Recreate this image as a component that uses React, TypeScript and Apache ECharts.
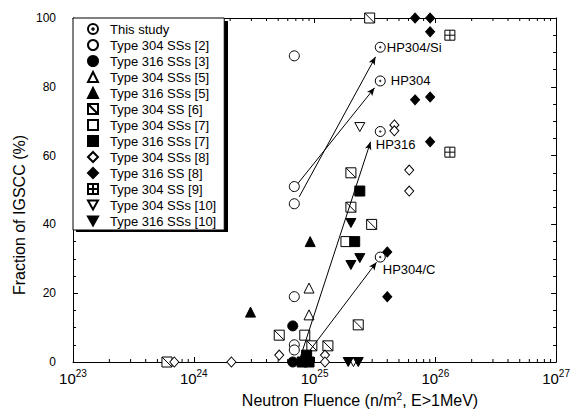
import React, { useEffect, useRef } from "react";
import * as echarts from "echarts";

// ---------- data: [neutron fluence (n/m^2), fraction of IGSCC (%)] ----------
const thisStudy: [number, number][] = [
  [3.5e25, 91.5],
  [3.5e25, 81.7],
  [3.5e25, 67],
  [3.5e25, 30.5],
];
const thisStudyLabels = ["HP304/Si", "HP304", "HP316", "HP304/C"];
const type304SSs2: [number, number][] = [
  [6.8e24, 89],
  [6.8e24, 51],
  [6.8e24, 46],
  [6.8e24, 19],
  [6.8e24, 5],
  [6.8e24, 3.5],
];
const type316SSs3: [number, number][] = [
  [6.6e24, 10.5],
  [6.6e24, 0],
];
const type304SSs5: [number, number][] = [
  [9.0e24, 21.5],
  [9.0e24, 13.7],
];
const type316SSs5: [number, number][] = [
  [9.2e24, 35],
  [2.95e24, 14.5],
];
const type304SS6: [number, number][] = [
  [2.86e25, 100],
  [2.0e25, 55],
  [2.0e25, 45],
  [2.97e25, 40],
  [2.3e25, 10.8],
  [5.1e24, 7.8],
  [9.5e24, 4.7],
  [1.29e25, 4.7],
  [6.0e23, 0],
];
const type304SSs7: [number, number][] = [
  [1.82e25, 35],
  [8.3e24, 7.8],
];
const type316SSs7: [number, number][] = [
  [2.37e25, 49.7],
  [2.15e25, 35],
  [7.9e24, 0],
  [8.6e24, 2],
  [9.0e24, 0],
];
const type304SSs8: [number, number][] = [
  [4.58e25, 68.9],
  [4.58e25, 67.2],
  [6.08e25, 55.8],
  [6.08e25, 49.7],
  [6.9e23, 0],
  [2.05e24, 0],
  [5.1e24, 2],
  [1.22e25, 2],
  [1.22e25, 0],
];
const type316SS8: [number, number][] = [
  [6.8e25, 100],
  [9.06e25, 100],
  [9.06e25, 96],
  [6.8e25, 76.2],
  [9.06e25, 77],
  [9.06e25, 64],
  [4.0e25, 32],
  [4.0e25, 19],
];
const type304SS9: [number, number][] = [
  [1.32e26, 95],
  [1.32e26, 61],
];
const type304SSs10: [number, number][] = [
  [2.37e25, 68.3],
  [2.1e25, 0],
];
const type316SSs10: [number, number][] = [
  [2.0e25, 40.4],
  [2.37e25, 30.2],
  [2.0e25, 28.2],
  [1.9e25, 0],
  [2.3e25, 0],
];

// arrows (this study): from -> to
const arrowFrom: [number, number][] = [
  [7.32e24, 52],
  [7.46e24, 48],
  [7.6e24, 1.2],
  [9.2e24, 3.5],
];
const arrowTo: [number, number][] = [
  [3.14e25, 79.7],
  [3.2e25, 88.7],
  [2.91e25, 64],
  [3.26e25, 29],
];

// axis ticks
const xMin = 1e23;
const xMax = 1e27;
const decades = [23, 24, 25, 26];
const minorMultipliers = [2, 3, 4, 5, 6, 7, 8, 9];
const yTicks = [0, 20, 40, 60, 80, 100];

// ---------- styles ----------
const FONT = "'Liberation Sans', Arial, Helvetica, sans-serif";
const DOT_CIRCLE =
  "path://M5,0A5,5,0,1,1,5,10A5,5,0,1,1,5,0ZM5,4.3A0.7,0.7,0,1,1,5,5.7A0.7,0.7,0,1,1,5,4.3Z";
const DIAG_SQUARE = "path://M0,0H10V10H0ZM0,0L10,10";
const PLUS_SQUARE = "path://M0,0H10V10H0ZM5,0V10M0,5H10";
const DOWN_TRI = "path://M0,0H10L5,9Z";

const labelOffsets: Record<string, any> = {
  "HP304/Si": { position: "right", distance: 1, offset: [0, 0] },
  HP304: { position: "right", distance: 5, offset: [0, 0] },
  HP316: { position: "right", distance: 5, offset: [-15, 13] },
  "HP304/C": { position: "right", distance: 5, offset: [-8, 12] },
};

type Def = {
  name: string;
  data: [number, number][];
  symbol: string;
  size: number | number[];
  filled: boolean;
};

const defs: Def[] = [
  { name: "This study", data: thisStudy, symbol: DOT_CIRCLE, size: 10, filled: false },
  { name: "Type 304 SSs [2]", data: type304SSs2, symbol: "circle", size: 10, filled: false },
  { name: "Type 316 SSs [3]", data: type316SSs3, symbol: "circle", size: 10, filled: true },
  { name: "Type 304 SSs [5]", data: type304SSs5, symbol: "triangle", size: 10, filled: false },
  { name: "Type 316 SSs [5]", data: type316SSs5, symbol: "triangle", size: 10, filled: true },
  { name: "Type 304 SS [6]", data: type304SS6, symbol: DIAG_SQUARE, size: 10, filled: false },
  { name: "Type 304 SSs [7]", data: type304SSs7, symbol: "rect", size: 10, filled: false },
  { name: "Type 316 SSs [7]", data: type316SSs7, symbol: "rect", size: 10, filled: true },
  { name: "Type 304 SSs [8]", data: type304SSs8, symbol: "diamond", size: [9, 10], filled: false },
  { name: "Type 316 SS [8]", data: type316SS8, symbol: "diamond", size: [9, 10], filled: true },
  { name: "Type 304 SS [9]", data: type304SS9, symbol: PLUS_SQUARE, size: 10, filled: false },
  { name: "Type 304 SSs [10]", data: type304SSs10, symbol: DOWN_TRI, size: 10, filled: false },
  { name: "Type 316 SSs [10]", data: type316SSs10, symbol: DOWN_TRI, size: 10, filled: true },
];

export default function App() {
  const ref = useRef<HTMLDivElement>(null);

  useEffect(() => {
    if (!ref.current) return;
    const chart = echarts.init(ref.current, undefined, { renderer: "svg" });

    const minorTicks: [number, number][] = [];
    decades.forEach((d) =>
      minorMultipliers.forEach((m) => minorTicks.push([m * Math.pow(10, d), 0]))
    );

    const scatterSeries: any[] = defs.map((d, idx) => {
      const s: any = {
        type: "scatter",
        name: d.name,
        symbol: d.symbol,
        symbolSize: d.size,
        symbolKeepAspect: true,
        clip: false,
        z: 3,
        itemStyle: {
          color: d.filled ? "#000" : "#fff",
          borderColor: "#000",
          borderWidth: 1,
          opacity: 1,
        },
        emphasis: { disabled: true },
        data: d.data.map((p, i) => {
          if (idx === 0) {
            const lab = thisStudyLabels[i];
            const o = labelOffsets[lab];
            return {
              value: p,
              label: {
                show: true,
                formatter: lab,
                position: o.position,
                distance: o.distance,
                offset: o.offset,
                color: "#000",
                fontSize: 13,
                fontFamily: FONT,
              },
            };
          }
          return p;
        }),
      };
      if (idx === 0) {
        s.markLine = {
          silent: true,
          symbol: ["none", "arrow"],
          symbolSize: [5, 8],
          lineStyle: { color: "#000", width: 1, type: "solid" },
          label: { show: false },
          emphasis: { disabled: true },
          data: arrowFrom.map((f, i) => [{ coord: f }, { coord: arrowTo[i] }]),
        };
      }
      return s;
    });

    const option: any = {
      animation: false,
      backgroundColor: "#fff",
      grid: { left: 73, right: 13, top: 18, bottom: 50, containLabel: false },
      xAxis: [
        {
          type: "log",
          logBase: 10,
          min: xMin,
          max: xMax,
          splitNumber: 4,
          position: "bottom",
          axisLine: { show: true, onZero: false, lineStyle: { color: "#000", width: 1 } },
          axisTick: { show: true, inside: true, length: 5, lineStyle: { color: "#000" } },
          splitLine: { show: false },
          axisLabel: {
            show: true,
            margin: 6,
            showMinLabel: true,
            showMaxLabel: true,
            hideOverlap: false,
            formatter: (v: number) => "{b|10}{s|" + Math.round(Math.log10(v)) + "}",
            rich: {
              b: { fontSize: 15, fontFamily: FONT, color: "#000", lineHeight: 18, verticalAlign: "bottom" },
              s: { fontSize: 10, fontFamily: FONT, color: "#000", lineHeight: 18, verticalAlign: "top" },
            },
          },
        },
        {
          type: "log",
          logBase: 10,
          min: xMin,
          max: xMax,
          splitNumber: 4,
          position: "top",
          axisLine: { show: true, onZero: false, lineStyle: { color: "#000", width: 1 } },
          axisTick: { show: true, inside: true, length: 5, lineStyle: { color: "#000" } },
          splitLine: { show: false },
          axisLabel: { show: false },
        },
      ],
      yAxis: [
        {
          type: "value",
          min: yTicks[0],
          max: yTicks[yTicks.length - 1],
          interval: 20,
          position: "left",
          axisLine: { show: true, onZero: false, lineStyle: { color: "#000", width: 1 } },
          axisTick: { show: true, inside: true, length: 5, lineStyle: { color: "#000" } },
          minorTick: { show: true, splitNumber: 4, length: 3, lineStyle: { color: "#000" } },
          splitLine: { show: false },
          axisLabel: { color: "#000", fontSize: 12, fontFamily: FONT, margin: 17 },
        },
        {
          type: "value",
          min: yTicks[0],
          max: yTicks[yTicks.length - 1],
          interval: 20,
          position: "right",
          axisLine: { show: true, onZero: false, lineStyle: { color: "#000", width: 1 } },
          axisTick: { show: true, inside: true, length: 5, lineStyle: { color: "#000" } },
          minorTick: { show: true, splitNumber: 4, length: 3, lineStyle: { color: "#000" } },
          splitLine: { show: false },
          axisLabel: { show: false },
        },
      ],
      legend: {
        show: true,
        orient: "vertical",
        left: 73,
        top: 18,
        z: 10,
        itemWidth: 10,
        itemHeight: 10,
        itemGap: 0,
        padding: [3, 8, 1, 14],
        backgroundColor: "#fff",
        borderColor: "#000",
        borderWidth: 1,
        selectedMode: false,
        data: defs.map((d) => d.name),
        textStyle: {
          color: "#000",
          fontSize: 13,
          fontFamily: FONT,
          lineHeight: 16,
          padding: [0, 0, 0, 7],
        },
      },
      graphic: [
        {
          type: "rect",
          z: 5,
          silent: true,
          shape: { x: 76, y: 21, width: 152, height: 211 },
          style: { fill: "#000" },
        },
        {
          type: "text",
          x: 19,
          y: 215,
          rotation: Math.PI / 2,
          style: {
            text: "Fraction of IGSCC (%)",
            fill: "#000",
            font: "16px " + FONT,
            align: "center",
            verticalAlign: "middle",
          },
        },
        {
          type: "text",
          x: 360,
          y: 400,
          style: {
            text: "Neutron Fluence (n/m{s|2}, E>1MeV)",
            fill: "#000",
            font: "16px " + FONT,
            align: "center",
            verticalAlign: "middle",
            rich: {
              s: { fontSize: 10, fontFamily: FONT, fill: "#000", verticalAlign: "top", lineHeight: 18 },
            },
          },
        },
      ],
      series: [
        {
          type: "custom",
          name: "minorTicks",
          xAxisIndex: 0,
          yAxisIndex: 0,
          silent: true,
          clip: false,
          z: 1,
          encode: { x: 0, y: 1 },
          data: minorTicks,
          renderItem: (_p: any, api: any) => {
            const v = api.value(0);
            const b = api.coord([v, yTicks[0]]);
            const t = api.coord([v, yTicks[yTicks.length - 1]]);
            return {
              type: "group",
              children: [
                { type: "line", shape: { x1: b[0], y1: b[1], x2: b[0], y2: b[1] - 3 }, style: { stroke: "#000", lineWidth: 1 } },
                { type: "line", shape: { x1: t[0], y1: t[1], x2: t[0], y2: t[1] + 3 }, style: { stroke: "#000", lineWidth: 1 } },
              ],
            };
          },
        },
        ...scatterSeries,
      ],
    };

    chart.setOption(option);
    return () => chart.dispose();
  }, []);

  return (
    <div
      ref={ref}
      style={{ position: "absolute", left: 0, top: 0, width: 573, height: 412, background: "#fff" }}
    />
  );
}
